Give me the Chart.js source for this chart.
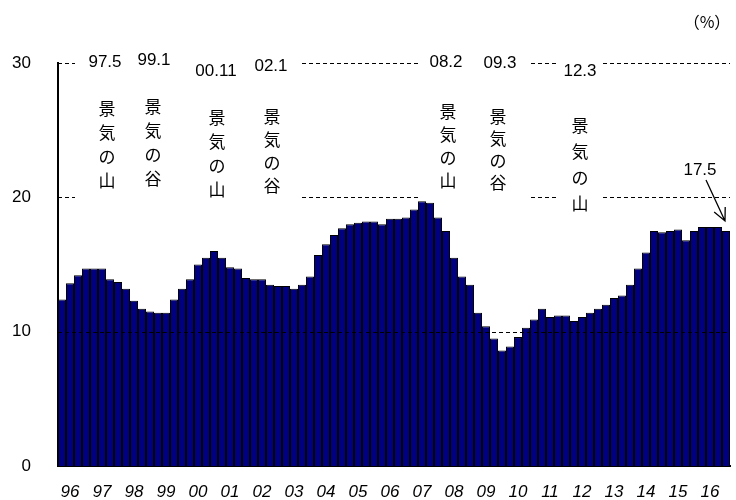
<!DOCTYPE html>
<html>
<head>
<meta charset="utf-8">
<script src="https://cdn.jsdelivr.net/npm/chart.js@4.4.1/dist/chart.umd.min.js"></script>
<style>
  body { margin: 0; background: #fff; }
  canvas { display: block; }
</style>
</head>
<body>
<canvas id="ratio_chart" width="736" height="500"></canvas>
<script>
// quarterly series, 1996Q1 - 2016Q4 (%)
const yearLabels = ['96', '97', '98', '99', '00', '01', '02', '03', '04', '05', '06',
  '07', '08', '09', '10', '11', '12', '13', '14', '15', '16'];

const ratio = [
  12.4, 13.6, 14.2, 14.7,  // 96
  14.7, 14.7, 13.9, 13.7,  // 97
  13.2, 12.3, 11.7, 11.5,  // 98
  11.4, 11.4, 12.4, 13.2,  // 99
  13.9, 15.0, 15.5, 16.0,  // 00
  15.5, 14.8, 14.7, 14.0,  // 01
  13.9, 13.9, 13.5, 13.4,  // 02
  13.4, 13.2, 13.5, 14.1,  // 03
  15.7, 16.5, 17.2, 17.7,  // 04
  18.0, 18.1, 18.2, 18.2,  // 05
  18.0, 18.4, 18.4, 18.5,  // 06
  19.1, 19.7, 19.6, 18.5,  // 07
  17.5, 15.5, 14.1, 13.5,  // 08
  11.4, 10.4, 9.5, 8.6,    // 09
  8.9, 9.6, 10.3, 10.9,    // 10
  11.7, 11.1, 11.2, 11.2,  // 11
  10.8, 11.1, 11.4, 11.7,  // 12
  12.0, 12.5, 12.7, 13.5,  // 13
  14.7, 15.9, 17.5, 17.4,  // 14
  17.5, 17.6, 16.8, 17.5,  // 15
  17.8, 17.8, 17.8, 17.5   // 16
];

// business cycle turning points
const turnDates = ['97.5', '99.1', '00.11', '02.1', '08.2', '09.3', '12.3'];
const turnPhases = ['山', '谷', '山', '谷', '山', '谷', '山'];

const quarters = [];
yearLabels.forEach(yr => {
  for (let q = 1; q <= 4; q++) quarters.push(yr + 'Q' + q);
});

const NUM_FONT = '"Liberation Sans", Arial, sans-serif';
const JP_FONT = '"Noto Sans CJK JP", sans-serif';

// where each turning-point note sits: date label x/y, vertical text x/first y/step
const notePos = [
  [105, 62, 107, 109, 24],
  [154, 60, 153, 107, 24],
  [216, 71, 217, 118, 24],
  [271, 66, 272, 117, 23],
  [446, 62, 448, 112, 23],
  [500, 63, 498, 117, 22],
  [580, 71, 580, 126, 26]
];
// dashed reference lines are broken where the notes sit
const upperSegments = [[58, 75], [302, 420], [531, 557], [603, 730]];

const dashedLine = (ctx, x1, x2, y) => {
  ctx.beginPath();
  ctx.moveTo(x1, y);
  ctx.lineTo(x2, y);
  ctx.stroke();
};

const cycleNotes = {
  id: 'cycleNotes',
  beforeDatasetsDraw(chart) {
    const {ctx, scales: {y}} = chart;
    ctx.save();
    ctx.strokeStyle = '#000';
    ctx.lineWidth = 1;
    ctx.setLineDash([4, 3]);
    [30, 20].forEach(v => {
      const py = Math.round(y.getPixelForValue(v)) + 0.5;
      upperSegments.forEach(([a, b]) => dashedLine(ctx, a, b, py));
    });
    ctx.setLineDash([]);

    ctx.fillStyle = '#000';
    ctx.textAlign = 'center';
    ctx.textBaseline = 'middle';
    turnDates.forEach((label, i) => {
      const [lx, ly, vx, vy, step] = notePos[i];
      ctx.font = '17px ' + NUM_FONT;
      ctx.fillText(label, lx, ly);
      ctx.font = '17px ' + JP_FONT;
      ['景', '気', 'の', turnPhases[i]].forEach((ch, k) => {
        ctx.fillText(ch, vx, vy + k * step);
      });
    });

    ctx.font = '16px ' + JP_FONT;
    ctx.fillText('（%）', 707, 22);
    ctx.restore();
  },
  afterDatasetsDraw(chart) {
    const {ctx, scales: {x, y}} = chart;
    ctx.save();
    ctx.strokeStyle = '#000';
    ctx.lineWidth = 1;
    ctx.setLineDash([4, 3]);
    const py = Math.round(y.getPixelForValue(10)) + 0.5;
    dashedLine(ctx, x.left, x.right, py);
    ctx.setLineDash([]);

    // latest value with arrow
    const last = ratio.length - 1;
    ctx.fillStyle = '#000';
    ctx.font = '17px ' + NUM_FONT;
    ctx.textAlign = 'center';
    ctx.textBaseline = 'middle';
    ctx.fillText(ratio[last].toFixed(1), 700, 170);

    const tipX = x.getPixelForValue(last) - 1;
    const tipY = y.getPixelForValue(ratio[last]) - 10;
    const fromX = 706, fromY = 180;
    const ang = Math.atan2(tipY - fromY, tipX - fromX);
    ctx.lineWidth = 1.3;
    ctx.beginPath();
    ctx.moveTo(fromX, fromY);
    ctx.lineTo(tipX, tipY);
    ctx.moveTo(tipX - 14 * Math.cos(ang - 0.45), tipY - 14 * Math.sin(ang - 0.45));
    ctx.lineTo(tipX, tipY);
    ctx.lineTo(tipX - 14 * Math.cos(ang + 0.45), tipY - 14 * Math.sin(ang + 0.45));
    ctx.stroke();
    ctx.restore();
  }
};

const canvas = document.getElementById('ratio_chart');

new Chart(canvas, {
  type: 'bar',
  data: {
    labels: quarters,
    datasets: [{
      data: ratio,
      backgroundColor: '#000080',
      borderColor: '#000',
      borderWidth: 1,
      inflateAmount: 0,
      barPercentage: 1,
      categoryPercentage: 1
    }]
  },
  options: {
    responsive: false,
    animation: false,
    layout: { padding: { left: 0, right: 6, top: 63, bottom: 0 } },
    plugins: {
      legend: { display: false },
      tooltip: { enabled: false }
    },
    scales: {
      x: {
        grid: { display: false },
        border: { display: true, color: '#000', width: 2 },
        ticks: {
          autoSkip: false,
          maxRotation: 0,
          minRotation: 0,
          padding: 8,
          color: '#000',
          font: { family: NUM_FONT, size: 17, style: 'italic' },
          callback: (val, i) => (i % 4 === 1 ? yearLabels[(i - 1) / 4] : '')
        },
        afterFit: (scale) => { scale.height = 34; }
      },
      y: {
        min: 0,
        max: 30,
        grid: { display: false },
        border: { display: true, color: '#000', width: 2 },
        ticks: {
          stepSize: 10,
          padding: 19,
          color: '#000',
          font: { family: NUM_FONT, size: 17 }
        },
        afterFit: (scale) => { scale.width = 58; }
      }
    }
  },
  plugins: [cycleNotes]
});
</script>
</body>
</html>
